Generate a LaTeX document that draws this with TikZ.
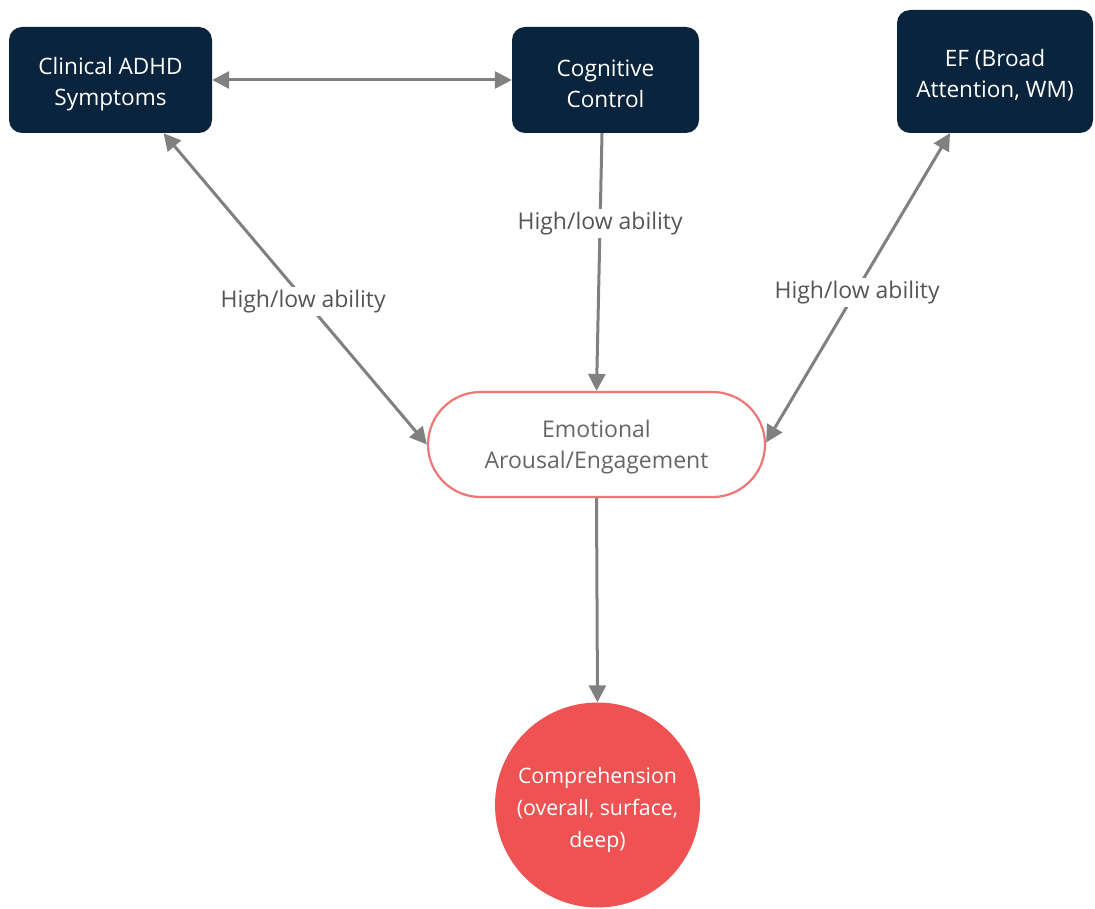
\documentclass[tikz,border=0pt]{standalone}
\usepackage{fontspec}
\setmainfont{Open Sans}
\usetikzlibrary{arrows.meta,shapes.misc}

\definecolor{navy}{HTML}{0B243D}
\definecolor{coral}{HTML}{EE5252}
\definecolor{pinkline}{HTML}{F07676}
\definecolor{arrowgray}{HTML}{808080}
\definecolor{labelgray}{HTML}{555555}
\definecolor{softgray}{HTML}{666666}

\tikzset{
  darkbox/.style={rectangle, rounded corners=13pt, fill=navy, inner sep=0pt},
  boxtext/.style={text=white, align=center, inner sep=0pt,
    font=\fontsize{22.6}{31}\selectfont},
  pill/.style={rounded rectangle, draw=pinkline, line width=2.2pt, fill=white,
    minimum width=337pt, minimum height=105pt, inner sep=0pt},
  pilltext/.style={text=softgray, align=center, inner sep=0pt,
    font=\fontsize{23}{31}\selectfont},
  outcome/.style={circle, fill=coral, minimum size=205pt, inner sep=0pt},
  outcometext/.style={text=white, align=center, inner sep=0pt,
    font=\fontsize{21.3}{32}\selectfont},
  link/.style={draw=arrowgray, line width=3pt,
    -{Triangle[length=17pt,width=17pt]}},
  twoway/.style={draw=arrowgray, line width=3pt,
    {Triangle[length=17pt,width=17pt]}-{Triangle[length=17pt,width=17pt]}},
  tag/.style={fill=white, text=labelgray, inner sep=3pt, yshift=-3pt,
    font=\fontsize{23}{28}\selectfont}
}

\begin{document}
\begin{tikzpicture}[x=1pt,y=-1pt]
  \useasboundingbox[fill=white] (0,0) rectangle (1095,909);

  % top row of factors
  \node[darkbox, minimum width=203pt, minimum height=106pt] (clin) at (110.5,80) {};
  \node[boxtext] (clintext) at (110.5,84) {Clinical ADHD\\Symptoms};
  \node[darkbox, minimum width=187pt, minimum height=106pt] (cog) at (605.5,80) {};
  \node[boxtext] (cogtext) at (605.5,84) {Cognitive\\Control};
  \node[darkbox, minimum width=196pt, minimum height=123pt] (ef) at (995,71.5) {};
  \node[boxtext] (eftext) at (995,75) {EF (Broad\\Attention, WM)};

  % mediator and outcome
  \node[pill] (emo) at (596.5,444.5) {};
  \node[pilltext] (emotext) at (596.5,447.5) {Emotional\\Arousal/Engagement};
  \node[outcome] (comp) at (597.5,805) {};
  \node[outcometext] (comptext) at (597.5,810)
    {Comprehension\\(overall, surface,\\deep)};

  % anchor points on the boxes for the slanted connectors
  \coordinate (clinfoot) at ([xshift=53pt]clin.south);
  \coordinate (cogfoot) at ([xshift=-3.5pt]cog.south);
  \coordinate (effoot) at ([xshift=-45pt]ef.south);
  \coordinate (emoright) at ([yshift=2pt]emo.east);

  % connectors
  \draw[twoway] (clin.east) -- (cog.west);
  \draw[twoway] (clinfoot) -- node[tag, pos=0.53] {High/low ability} (emo.west);
  \draw[link] (cogfoot) -- node[tag, pos=0.34] {High/low ability} (emo.north);
  \draw[twoway] (effoot) -- node[tag, pos=0.505] {High/low ability} (emoright);
  \draw[link] (emo.south) -- (comp.north);
\end{tikzpicture}
\end{document}
